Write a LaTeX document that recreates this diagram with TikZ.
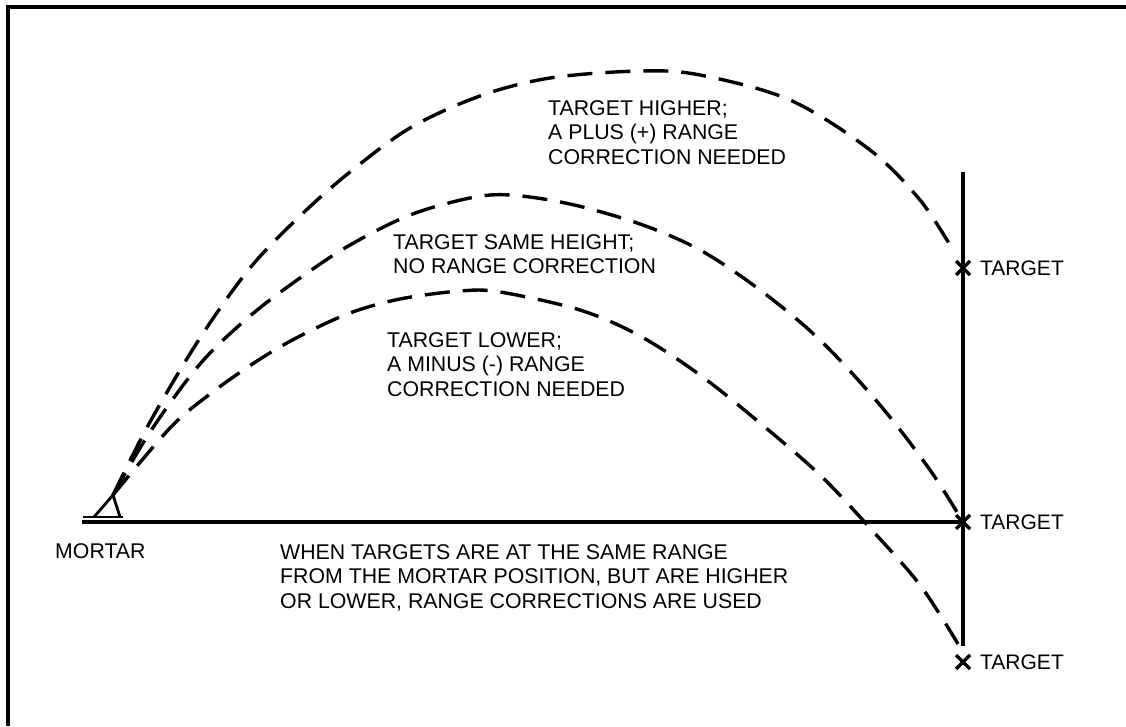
\documentclass[tikz,border=0pt]{standalone}
\usepackage{fontspec}
\setmainfont{Liberation Sans}
\usetikzlibrary{calc}
\begin{document}
\begin{tikzpicture}[x=1pt,y=-1pt,
  frame/.style={line width=4pt},
  solidline/.style={line width=3.4pt},
  traj/.style={line width=3.4pt, dash pattern=on 25pt off 13pt},
  lbl/.style={inner sep=0pt, align=left, anchor=north west, font=\fontsize{21.3}{24.6}\selectfont},
  tlbl/.style={inner sep=0pt, anchor=west, font=\fontsize{21}{24.6}\selectfont},
  xmark/.style={line width=3.4pt}]
\useasboundingbox (0,0) rectangle (1126,726);
% frame (top and left edges only)
\coordinate (fbl) at (8,726);
\coordinate (ftl) at (8,7);
\coordinate (ftr) at (1126,7);
\draw[frame] (fbl) -- (ftl) -- (ftr);

% key points
\coordinate (mortar) at (113,495);
\coordinate (gl) at (82,522);
\coordinate (t1) at (963,268);
\coordinate (t2) at (963,522);
\coordinate (t3) at (963,662);
\coordinate (vtop) at (963,172);
\coordinate (vbot) at (963,646);
\coordinate (b1) at (83,517);
\coordinate (b2) at (123,517);
\coordinate (m1) at (94,517);
\coordinate (m2) at (120,517);

% ground line and vertical line
\draw[solidline] (gl) -- (t2);
\draw[solidline] (vtop) -- (vbot);
% mortar symbol
\draw[line width=2.8pt] (b1) -- (b2);
\draw[line width=2.8pt,line join=round] (m1) -- (mortar) -- (m2);

% target crosses
\foreach \t in {t1,t2,t3}{
  \draw[xmark] ($(\t)+(-7,-7)$) -- ($(\t)+(7,7)$);
  \draw[xmark] ($(\t)+(-7,7)$) -- ($(\t)+(7,-7)$);
}

% trajectories
\draw[traj] plot[smooth,tension=0.55] coordinates {(mortar) (150,422) (200,338) (250,268) (300,216) (350,172) (410,128) (480,96) (550,78) (640,71) (700,75) (790,100) (870,150) (920,200) (953,250)};
\draw[traj] plot[smooth,tension=0.55] coordinates {(mortar) (150,432) (200,364) (250,316) (300,278) (350,245) (410,215) (470,198) (510,195) (570,204) (640,224) (700,250) (760,290) (820,340) (880,405) (930,470) (963,522)};
\draw[traj] plot[smooth,tension=0.55] coordinates {(mortar) (170,428) (210,394) (257,361) (300,336) (350,313) (400,299) (460,291) (500,292) (580,310) (640,336) (700,375) (760,423) (820,475) (870,528) (920,585) (958,644)};

% labels
\node[lbl] (lh) at (548,100) {TARGET HIGHER;\\A PLUS (+) RANGE\\CORRECTION NEEDED};
\node[lbl] (ls) at (393,234) {TARGET SAME HEIGHT;\\NO RANGE CORRECTION};
\node[lbl] (ll) at (387,332) {TARGET LOWER;\\A MINUS (-) RANGE\\CORRECTION NEEDED};
\node[lbl] (note) at (280,544) {WHEN TARGETS ARE AT THE SAME RANGE\\FROM THE MORTAR POSITION, BUT ARE HIGHER\\OR LOWER, RANGE CORRECTIONS ARE USED};
\node[lbl] (mlbl) at (55,543) {MORTAR};
\node[tlbl] (tl1) at (980,268) {TARGET};
\node[tlbl] (tl2) at (980,522) {TARGET};
\node[tlbl] (tl3) at (980,662) {TARGET};
\end{tikzpicture}
\end{document}
